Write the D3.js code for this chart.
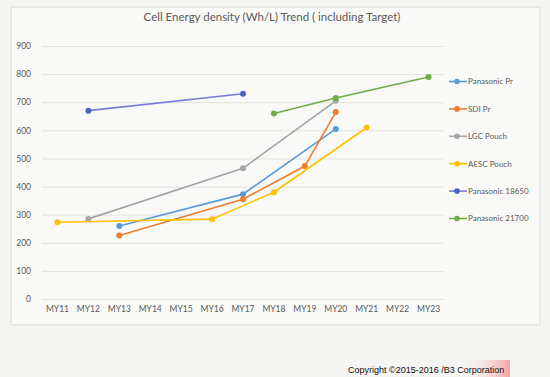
<!DOCTYPE html>
<html>
<head>
<meta charset="utf-8">
<script src="https://cdn.jsdelivr.net/npm/d3@7"></script>
<style>
  body { margin: 0; background: #f5f5f3; }
  svg { display: block; }
</style>
</head>
<body>
<svg id="chart"></svg>
<script>
// Values, null where a series has no point
const years = ["MY11", "MY12", "MY13", "MY14", "MY15", "MY16", "MY17", "MY18", "MY19", "MY20", "MY21", "MY22", "MY23"];
const yTicks = [0, 100, 200, 300, 400, 500, 600, 700, 800, 900];

const seriesNames = ["Panasonic Pr", "SDI Pr", "LGC Pouch", "AESC Pouch", "Panasonic 18650", "Panasonic 21700"];
const panasonicPr = [null, null, 260, null, null, null, 373, null, null, 605, null, null, null];
const sdiPr = [null, null, 226, null, null, null, 355, null, 473, 665, null, null, null];
const lgcPouch = [null, 285, null, null, null, null, 465, null, null, 705, null, null, null];
const aescPouch = [273, null, null, null, null, 284, null, 380, null, null, 610, null, null];
const panasonic18650 = [null, 670, null, null, null, null, 730, null, null, null, null, null, null];
const panasonic21700 = [null, null, null, null, null, null, null, 660, null, 715, null, null, 790];

const seriesValues = [panasonicPr, sdiPr, lgcPouch, aescPouch, panasonic18650, panasonic21700];
const colors = ["#5b9bd5", "#ed7d31", "#a5a5a5", "#ffc000", "#4a63c4", "#70ad47"];
const lineColors = ["#5b9bd5", "#ed7d31", "#a5a5a5", "#ffc000", "#7a7ad8", "#70ad47"];

const width = 550, height = 377;
const plot = {left: 42, right: 444, top: 46, bottom: 299};

const svg = d3.select("#chart").attr("width", width).attr("height", height);

// chart frame
svg.append("rect")
  .attr("x", 11).attr("y", 7).attr("width", 529).attr("height", 318)
  .attr("fill", "#f9f9f7").attr("stroke", "#dcdcda");

svg.append("text")
  .attr("x", 272).attr("y", 21)
  .attr("text-anchor", "middle")
  .attr("font-family", "Lato, 'Open Sans', sans-serif")
  .attr("font-size", 11.5)
  .attr("fill", "#595959")
  .text("Cell Energy density (Wh/L) Trend ( including Target)");

const x = d3.scaleBand().domain(years).range([plot.left, plot.right]);
const y = d3.scaleLinear().domain([0, 900]).range([plot.bottom, plot.top]);

// gridlines and y labels
const yAxis = svg.append("g")
  .attr("transform", `translate(${plot.left},0)`)
  .call(d3.axisLeft(y).tickValues(yTicks).tickSize(-(plot.right - plot.left)).tickPadding(11));
yAxis.select(".domain").remove();
yAxis.selectAll("line").attr("stroke", "#e2e2e0");
yAxis.selectAll("text")
  .attr("font-family", "Lato, 'Open Sans', sans-serif")
  .attr("font-size", 8.5)
  .attr("fill", "#595959");

const xAxis = svg.append("g")
  .attr("transform", `translate(0,${plot.bottom})`)
  .call(d3.axisBottom(x).tickSize(0).tickPadding(7));
xAxis.select(".domain").remove();
xAxis.selectAll("text")
  .attr("font-family", "Lato, 'Open Sans', sans-serif")
  .attr("font-size", 8.5)
  .attr("fill", "#595959");

const cx = (i) => x(years[i]) + x.bandwidth() / 2;

const line = d3.line()
  .x(d => cx(d.i))
  .y(d => y(d.v));

seriesValues.forEach((vals, k) => {
  const pts = vals.map((v, i) => ({i, v})).filter(d => d.v !== null);

  svg.append("path")
    .datum(pts)
    .attr("d", line)
    .attr("fill", "none")
    .attr("stroke", lineColors[k])
    .attr("stroke-width", 1.6);

  svg.append("g").selectAll("circle")
    .data(pts)
    .join("circle")
    .attr("cx", d => cx(d.i))
    .attr("cy", d => y(d.v))
    .attr("r", 3)
    .attr("fill", colors[k]);
});

// legend
const legend = svg.append("g")
  .selectAll("g")
  .data(seriesNames)
  .join("g")
  .attr("transform", (d, k) => `translate(449,${81.5 + k * 27.4})`);

legend.append("line")
  .attr("x1", 0).attr("x2", 18)
  .attr("stroke", (d, k) => lineColors[k])
  .attr("stroke-width", 1.6);
legend.append("circle")
  .attr("cx", 8).attr("r", 2.8)
  .attr("fill", (d, k) => colors[k]);
legend.append("text")
  .attr("x", 19).attr("dy", "0.35em")
  .attr("font-family", "Lato, 'Open Sans', sans-serif")
  .attr("font-size", 8)
  .attr("fill", "#595959")
  .text(d => d);

// copyright stamp
const grad = svg.append("defs").append("linearGradient").attr("id", "pink");
grad.append("stop").attr("offset", "0%").attr("stop-color", "#f5f5f3").attr("stop-opacity", 0);
grad.append("stop").attr("offset", "100%").attr("stop-color", "#f4a3a6");
svg.append("rect")
  .attr("x", 460).attr("y", 360).attr("width", 50).attr("height", 17)
  .attr("fill", "url(#pink)");

svg.append("text")
  .attr("x", 348).attr("y", 373)
  .attr("font-family", "'Liberation Sans', Arial, sans-serif")
  .attr("font-size", 9)
  .attr("fill", "#111")
  .text("Copyright \u00a92015-2016 /B3 Corporation");
</script>
</body>
</html>
